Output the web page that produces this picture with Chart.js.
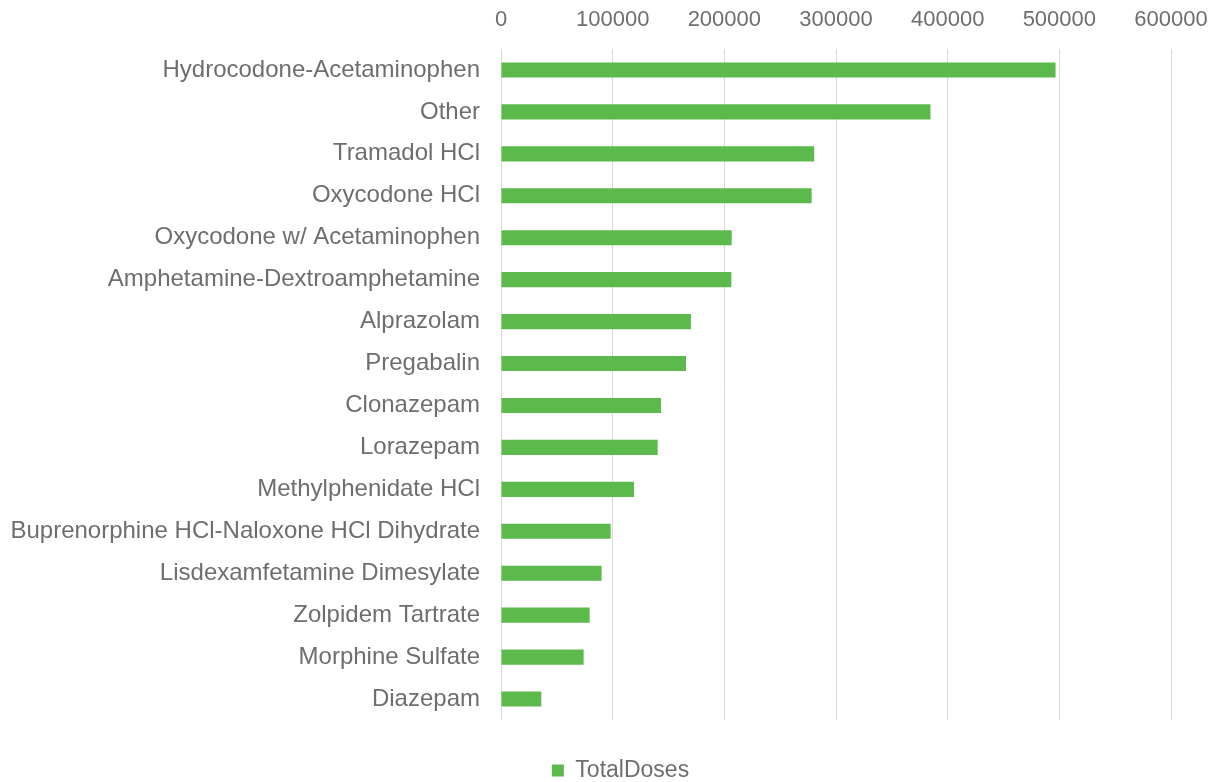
<!DOCTYPE html>
<html>
<head>
<meta charset="utf-8">
<script src="https://cdn.jsdelivr.net/npm/chart.js@4"></script>
<style>
  html, body { margin: 0; padding: 0; background: #ffffff; }
  #wrap { width: 1221px; height: 782px; position: relative; }
</style>
</head>
<body>
<div id="wrap"><canvas id="c" width="1221" height="782"></canvas></div>
<script>
const categories = [
  "Hydrocodone-Acetaminophen",
  "Other",
  "Tramadol HCl",
  "Oxycodone HCl",
  "Oxycodone w/ Acetaminophen",
  "Amphetamine-Dextroamphetamine",
  "Alprazolam",
  "Pregabalin",
  "Clonazepam",
  "Lorazepam",
  "Methylphenidate HCl",
  "Buprenorphine HCl-Naloxone HCl Dihydrate",
  "Lisdexamfetamine Dimesylate",
  "Zolpidem Tartrate",
  "Morphine Sulfate",
  "Diazepam"
];
const totalDoses = [
  496600, 384600, 280500, 278200, 206600, 206300, 170100, 165700,
  143300, 140300, 119100, 98200, 90100, 79400, 74000, 36100
];
const seriesName = "TotalDoses";
const xTicks = [0, 100000, 200000, 300000, 400000, 500000, 600000];

const textColor = "#6e6e6e";
const gridColor = "#d9d9d9";
const barColor = "#5cb94b";
const fontFamily = "'Liberation Sans', Arial, sans-serif";

const legendShift = {
  id: "legendShift",
  afterLayout(chart) {
    if (chart.legend) {
      chart.legend.left += 10;
      chart.legend.right += 10;
    }
  }
};

new Chart(document.getElementById("c"), {
  type: "bar",
  data: {
    labels: categories,
    datasets: [{
      label: seriesName,
      data: totalDoses,
      backgroundColor: barColor,
      borderWidth: 0,
      categoryPercentage: 1.0,
      barPercentage: 0.36
    }]
  },
  plugins: [legendShift],
  options: {
    indexAxis: "y",
    responsive: false,
    animation: false,
    layout: { padding: { left: 0, right: 0, top: 0, bottom: -10 } },
    scales: {
      x: {
        position: "top",
        min: 0,
        max: 600000,
        afterBuildTicks: (s) => { s.ticks = xTicks.map(v => ({ value: v })); },
        afterFit: (s) => { s.height = 49; s.paddingLeft = 0; s.paddingRight = 0; },
        border: { display: false },
        grid: { color: gridColor, lineWidth: 1, drawTicks: false },
        ticks: {
          padding: 16,
          color: textColor,
          font: { family: fontFamily, size: 22 },
          maxRotation: 0,
          callback: (v) => String(v)
        }
      },
      y: {
        position: "left",
        afterFit: (s) => { s.width = 501; },
        border: { display: false },
        grid: { display: false, drawTicks: false },
        ticks: {
          padding: 21,
          color: textColor,
          font: { family: fontFamily, size: 24 },
          autoSkip: false
        }
      },
      yRight: {
        type: "category",
        position: "right",
        display: true,
        afterFit: (s) => { s.width = 50; },
        border: { display: false },
        grid: { display: false, drawTicks: false },
        ticks: { display: false }
      }
    },
    plugins: {
      tooltip: { enabled: false },
      legend: {
        display: true,
        position: "bottom",
        title: { display: true, text: "", padding: { top: 17, bottom: 0 }, font: { size: 10 } },
        labels: {
          boxWidth: 12,
          boxHeight: 12,
          padding: 10,
          color: textColor,
          font: { family: fontFamily, size: 23 }
        }
      }
    }
  }
});
</script>
</body>
</html>
